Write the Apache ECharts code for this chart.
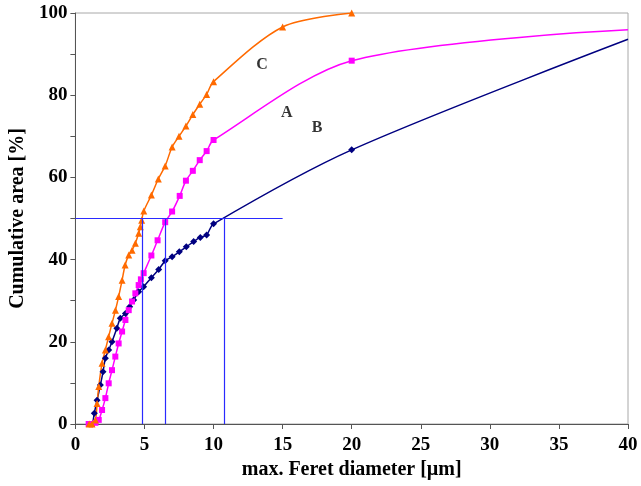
<!DOCTYPE html>
<html>
<head>
<meta charset="utf-8">
<script src="https://cdn.jsdelivr.net/npm/echarts@6/dist/echarts.min.js"></script>
<style>html,body{margin:0;padding:0;background:#fff;}#chart{width:641px;height:486px;}</style>
</head>
<body>
<div id="chart"></div>
<script>
// Series C (orange triangles): [diameter µm, cumulative area %]
const seriesC = [[1.0,0],[1.2,0],[1.45,1],[1.57,5],[1.69,9.1],[1.93,14.8],[2.17,18],[2.4,21.2],[2.65,24.5],[2.9,27.7],[3.13,31],[3.38,35],[3.6,38.7],[3.86,41.1],[4.1,42.3],[4.34,44],[4.58,46.4],[4.7,48],[4.8,49.6],[4.95,51.8],[5.5,55.7],[6.0,59.6],[6.5,62.8],[7.0,67.4],[7.5,70],[8.0,72.5],[8.5,75.3],[9.0,77.8],[9.5,80.2],[10,83.3],[15,96.6],[20,100]];
// Series A (magenta squares)
const seriesA = [[0.96,0],[1.2,0],[1.45,0.3],[1.69,1],[1.93,3.4],[2.17,6.3],[2.41,9.9],[2.65,13.1],[2.89,16.4],[3.13,19.6],[3.38,22.5],[3.62,25.3],[3.86,27.7],[4.1,29.8],[4.34,31.8],[4.58,33.8],[4.74,35.2],[4.94,36.7],[5.5,41],[5.95,44.7],[6.5,49.1],[7.0,51.7],[7.55,55.5],[8.0,59.2],[8.5,61.6],[9.0,64.2],[9.5,66.4],[10,69.1],[20,88.4],[40,95.9]];
// Series B (navy diamonds)
const seriesB = [[1.25,0],[1.37,2.6],[1.57,5.8],[1.81,9.5],[2.0,12.7],[2.17,16],[2.41,18],[2.65,20],[3.0,23.3],[3.25,25.7],[3.62,26.9],[3.93,28.5],[4.22,30.2],[4.58,32.2],[4.94,33.4],[5.5,35.6],[6.03,37.6],[6.5,39.7],[7.0,40.7],[7.52,41.9],[8.03,43.1],[8.56,44.4],[9.04,45.4],[9.5,46],[10,48.7],[20,66.7],[40,93.6]];
// Reference lines (50% level and crossing diameters)
const refLevel = 50;
const refLineEnd = 15;
const crossX = [4.85, 6.5, 10.8];
// Curve labels
const labelNames = ['C', 'A', 'B'];
const labelPos = [[13.5, 87.3], [15.3, 75.7], [17.5, 72.0]];
// Ticks
const xTicks = {min: 0, max: 40, interval: 5};
const yTicks = {min: 0, max: 100, interval: 10, labelEvery: 20};

const serif = 'Liberation Serif, Times New Roman, serif';
const chart = echarts.init(document.getElementById('chart'), null, {renderer: 'canvas'});

function curve(name, data, color, symbol, size) {
  const n = data.length;
  return {
    name: name, type: 'line', data: data.map((p, i) => (i === n - 1 && p[0] >= xTicks.max) ? {value: p, symbol: 'none'} : {value: p}),
    smooth: 0.3, symbol: symbol, symbolSize: size, showAllSymbol: true,
    lineStyle: {color: color, width: 1.5}, itemStyle: {color: color}, clip: true, z: 3
  };
}

const refSegments = [[{coord: [xTicks.min, refLevel]}, {coord: [refLineEnd, refLevel]}]]
  .concat(crossX.map(x => [{coord: [x, 0]}, {coord: [x, refLevel]}]));

chart.setOption({
  animation: false,
  grid: {left: 75, right: 13, top: 13, bottom: 62, show: true, borderColor: '#a8a8a8', borderWidth: 1},
  xAxis: {
    type: 'value', min: xTicks.min, max: xTicks.max, interval: xTicks.interval,
    name: 'max. Feret diameter [µm]', nameLocation: 'middle', nameGap: 32,
    nameTextStyle: {fontFamily: serif, fontWeight: 'bold', fontSize: 20, color: '#000'},
    axisLine: {show: true, onZero: false, lineStyle: {color: '#555', width: 1}},
    axisTick: {show: true, length: 5, lineStyle: {color: '#555'}},
    axisLabel: {fontFamily: serif, fontWeight: 'bold', fontSize: 19, color: '#000', margin: 12},
    splitLine: {show: false}
  },
  yAxis: {
    type: 'value', min: yTicks.min, max: yTicks.max, interval: yTicks.interval,
    name: 'Cumulative area [%]', nameLocation: 'middle', nameGap: 44,
    nameTextStyle: {fontFamily: serif, fontWeight: 'bold', fontSize: 20, color: '#000'},
    axisLine: {show: true, onZero: false, lineStyle: {color: '#555', width: 1}},
    axisTick: {show: true, length: 5, lineStyle: {color: '#555'}},
    axisLabel: {fontFamily: serif, fontWeight: 'bold', fontSize: 19, color: '#000', margin: 8,
      formatter: v => (v % yTicks.labelEvery === 0 ? String(v) : '')},
    splitLine: {show: false}
  },
  series: [
    curve('B', seriesB, '#000080', 'diamond', 7),
    curve('A', seriesA, '#ff00ff', 'rect', 6),
    curve('C', seriesC, '#ff6a00', 'triangle', 7),
    {
      type: 'line', data: [], silent: true, z: 4,
      markLine: {silent: true, symbol: ['none', 'none'], animation: false, label: {show: false},
        lineStyle: {color: '#2a2aff', width: 1.2, type: 'solid'}, data: refSegments}
    },
    {
      type: 'scatter', symbolSize: 0, silent: true, z: 5,
      data: labelPos.map((p, i) => ({value: p, name: labelNames[i]})),
      label: {show: true, position: 'inside', formatter: p => p.name,
        fontFamily: serif, fontWeight: 'bold', fontSize: 16, color: '#000'}
    }
  ]
});
</script>
</body>
</html>
